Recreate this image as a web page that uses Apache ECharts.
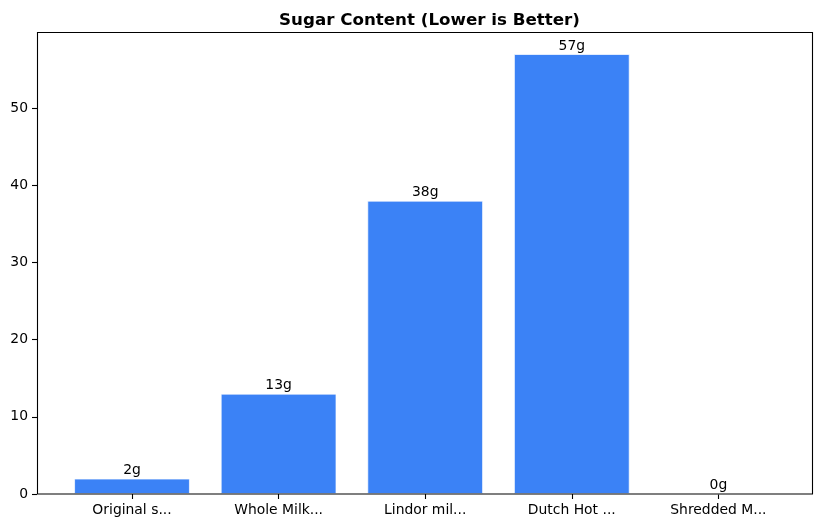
<!DOCTYPE html>
<html>
<head>
<meta charset="utf-8">
<script src="https://cdn.jsdelivr.net/npm/echarts@6/dist/echarts.min.js"></script>
<style>html,body{margin:0;padding:0;background:#fff}#c{width:822px;height:528px}</style>
</head>
<body>
<div id="c"></div>
<script>
const categories = ["Original s...", "Whole Milk...", "Lindor mil...", "Dutch Hot ...", "Shredded M..."];
const sugarGrams = [2, 13, 38, 57, 0];
const yTicks = [0, 10, 20, 30, 40, 50];

const chart = echarts.init(document.getElementById('c'), null, {renderer: 'canvas'});
const font = '"DejaVu Sans", sans-serif';
chart.setOption({
  animation: false,
  backgroundColor: '#ffffff',
  textStyle: {fontFamily: font},
  title: {
    text: 'Sugar Content (Lower is Better)',
    left: 424.5, textAlign: 'center', top: 7,
    textStyle: {fontFamily: font, fontWeight: 'bold', fontSize: 16.7, color: '#000'}
  },
  graphic: [{
    type: 'rect', z: 10, silent: true,
    shape: {x: 37.5, y: 32.5, width: 775, height: 461.5},
    style: {fill: 'none', stroke: '#000', lineWidth: 1.1}
  }],
  grid: {left: 58.7, right: 30.3, top: 32, bottom: 34, containLabel: false},
  xAxis: {
    type: 'category', data: categories,
    axisLine: {show: false},
    axisTick: {show: true, alignWithLabel: true, length: 5, lineStyle: {color: '#000', width: 1.1}},
    axisLabel: {color: '#000', fontSize: 13.9, margin: 9, fontFamily: font, interval: 0}
  },
  yAxis: {
    type: 'value', min: 0, max: 59.85, interval: 10, offset: 21.7,
    axisLine: {show: false},
    axisTick: {show: true, length: 5, customValues: yTicks, lineStyle: {color: '#000', width: 1.1}},
    splitLine: {show: false},
    axisLabel: {
      color: '#000', fontSize: 13.9, margin: 9, fontFamily: font,
      customValues: yTicks
    }
  },
  series: [{
    type: 'bar', data: sugarGrams, barWidth: '79%',
    itemStyle: {color: '#3b82f6', borderColor: 'rgba(255,255,255,0.7)', borderWidth: 1},
    label: {
      show: true, position: 'top', distance: 1, color: '#000', fontSize: 13.9, fontFamily: font,
      formatter: p => p.value + 'g'
    }
  }]
});
</script>
</body>
</html>
